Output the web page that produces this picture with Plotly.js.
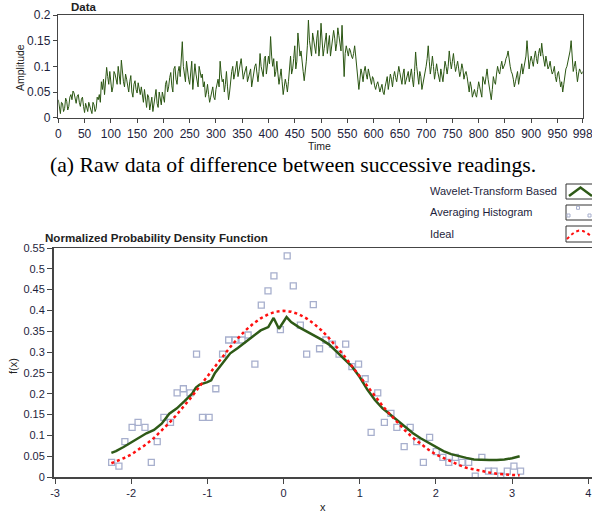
<!DOCTYPE html>
<html><head><meta charset="utf-8">
<script src="https://cdn.plot.ly/plotly-3.0.1.min.js"></script>
<style>html,body{margin:0;padding:0;background:#fff;overflow:hidden;} #chart{width:592px;height:515px;}</style>
</head><body><div id="chart"></div>
<script>
// ---- Top chart: raw data (sampled every 2 time units, t = 0..998) ----
const timeStart = 0;
const timeStep = 2;
const amplitude = [
0.035,0.020,0.008,0.030,0.028,0.012,0.018,0.038,0.032,0.015,0.022,0.040,0.045,0.035,0.052,0.048,0.038,0.028,0.042,0.045,0.030,0.022,0.036,0.040,0.022,0.010,0.028,0.022,0.012,0.030,0.020,0.015,0.008,0.030,0.025,0.012,0.018,0.040,0.035,0.045,0.030,0.070,0.055,0.075,0.045,0.070,0.098,0.080,0.065,0.090,
0.075,0.050,0.060,0.090,0.085,0.070,0.065,0.100,0.080,0.065,0.112,0.080,0.070,0.060,0.085,0.075,0.060,0.050,0.070,0.082,0.050,0.040,0.065,0.072,0.055,0.048,0.068,0.058,0.045,0.060,0.040,0.030,0.055,0.035,0.020,0.045,0.040,0.015,0.030,0.040,0.012,0.025,0.045,0.055,0.028,0.020,0.050,0.035,0.025,0.050,
0.040,0.030,0.065,0.072,0.050,0.060,0.078,0.088,0.062,0.050,0.095,0.100,0.075,0.065,0.090,0.100,0.080,0.110,0.148,0.100,0.085,0.070,0.110,0.090,0.075,0.065,0.095,0.110,0.055,0.075,0.105,0.085,0.070,0.060,0.100,0.090,0.078,0.085,0.060,0.070,0.040,0.050,0.065,0.045,0.030,0.040,0.050,0.060,0.040,0.035,
0.055,0.065,0.075,0.060,0.110,0.085,0.070,0.075,0.050,0.065,0.090,0.060,0.035,0.050,0.080,0.090,0.100,0.075,0.085,0.100,0.110,0.080,0.090,0.100,0.115,0.095,0.075,0.085,0.095,0.100,0.070,0.080,0.085,0.095,0.060,0.075,0.090,0.100,0.105,0.085,0.070,0.090,0.125,0.100,0.090,0.080,0.115,0.120,0.085,0.100,
0.120,0.105,0.158,0.120,0.100,0.115,0.080,0.090,0.110,0.085,0.065,0.080,0.095,0.070,0.045,0.060,0.075,0.065,0.050,0.070,0.100,0.120,0.085,0.095,0.115,0.140,0.095,0.110,0.165,0.135,0.120,0.130,0.100,0.090,0.072,0.090,0.110,0.140,0.190,0.150,0.130,0.120,0.165,0.150,0.140,0.125,0.155,0.170,0.120,0.140,
0.184,0.140,0.120,0.135,0.150,0.165,0.125,0.140,0.160,0.120,0.135,0.150,0.170,0.155,0.130,0.145,0.175,0.160,0.145,0.130,0.180,0.110,0.080,0.125,0.140,0.130,0.120,0.135,0.130,0.120,0.115,0.125,0.140,0.120,0.100,0.080,0.055,0.075,0.095,0.085,0.070,0.090,0.100,0.085,0.075,0.095,0.085,0.070,0.065,0.080,
0.075,0.062,0.055,0.065,0.070,0.060,0.050,0.058,0.065,0.050,0.045,0.060,0.070,0.080,0.055,0.070,0.085,0.075,0.060,0.080,0.090,0.078,0.070,0.085,0.100,0.088,0.075,0.065,0.085,0.095,0.065,0.072,0.080,0.090,0.070,0.080,0.095,0.075,0.060,0.090,0.128,0.100,0.075,0.065,0.090,0.080,0.055,0.065,0.080,0.090,
0.100,0.115,0.140,0.110,0.085,0.100,0.120,0.100,0.075,0.090,0.105,0.090,0.080,0.070,0.095,0.085,0.070,0.090,0.110,0.100,0.085,0.100,0.130,0.110,0.095,0.110,0.125,0.105,0.090,0.100,0.110,0.095,0.080,0.090,0.105,0.095,0.075,0.085,0.090,0.080,0.065,0.050,0.070,0.060,0.040,0.050,0.055,0.045,0.040,0.055,
0.070,0.060,0.050,0.040,0.080,0.070,0.065,0.080,0.095,0.075,0.060,0.050,0.035,0.055,0.080,0.070,0.065,0.085,0.100,0.090,0.085,0.100,0.110,0.095,0.100,0.105,0.115,0.120,0.130,0.110,0.100,0.090,0.085,0.075,0.060,0.070,0.080,0.090,0.065,0.078,0.095,0.105,0.085,0.100,0.110,0.120,0.150,0.110,0.095,0.110,
0.120,0.110,0.100,0.118,0.130,0.115,0.105,0.125,0.135,0.120,0.145,0.125,0.110,0.100,0.120,0.105,0.095,0.100,0.110,0.095,0.085,0.090,0.100,0.080,0.070,0.085,0.090,0.075,0.060,0.070,0.050,0.065,0.085,0.095,0.100,0.110,0.120,0.130,0.150,0.120,0.090,0.100,0.110,0.090,0.070,0.085,0.095,0.090,0.085,0.090
];
const timeTicks = [0,50,100,150,200,250,300,350,400,450,500,550,600,650,700,750,800,850,900,950,998];
const ampTicks = [0,0.05,0.1,0.15,0.2];

// ---- Bottom chart: PDFs ----
const waveletX = [-2.26,-2.2,-2.1,-2.0,-1.9,-1.8,-1.7,-1.6,-1.5,-1.4,-1.3,-1.2,-1.15,-1.1,-1.0,-0.95,-0.9,-0.8,-0.7,-0.6,-0.5,-0.4,-0.3,-0.2,-0.13,-0.06,0.04,0.1,0.2,0.3,0.4,0.5,0.6,0.7,0.8,0.9,1.0,1.1,1.2,1.3,1.4,1.5,1.6,1.7,1.8,1.9,2.0,2.1,2.2,2.3,2.4,2.5,2.6,2.7,2.8,2.9,3.0,3.1];
const waveletY = [0.058,0.062,0.072,0.083,0.095,0.105,0.113,0.128,0.152,0.165,0.182,0.200,0.215,0.222,0.228,0.232,0.250,0.275,0.297,0.310,0.325,0.338,0.352,0.360,0.382,0.356,0.384,0.372,0.360,0.350,0.342,0.330,0.318,0.300,0.283,0.265,0.240,0.210,0.185,0.165,0.150,0.135,0.118,0.105,0.093,0.082,0.071,0.062,0.055,0.050,0.046,0.042,0.041,0.041,0.041,0.042,0.045,0.050];

const idealX = [-2.26,-2.2,-2.1,-2.0,-1.9,-1.8,-1.7,-1.6,-1.5,-1.4,-1.3,-1.2,-1.1,-1.0,-0.9,-0.8,-0.7,-0.6,-0.5,-0.4,-0.3,-0.2,-0.1,0.0,0.1,0.2,0.3,0.4,0.5,0.6,0.7,0.8,0.9,1.0,1.1,1.2,1.3,1.4,1.5,1.6,1.7,1.8,1.9,2.0,2.1,2.2,2.3,2.4,2.5,2.6,2.7,2.8,2.9,3.0,3.1];
const idealY = [0.033,0.037,0.045,0.054,0.066,0.079,0.094,0.111,0.130,0.150,0.171,0.194,0.218,0.242,0.266,0.290,0.312,0.333,0.352,0.368,0.381,0.391,0.397,0.399,0.397,0.391,0.381,0.368,0.352,0.333,0.312,0.290,0.266,0.242,0.218,0.194,0.171,0.150,0.130,0.111,0.094,0.079,0.066,0.054,0.045,0.036,0.029,0.022,0.018,0.014,0.011,0.008,0.006,0.005,0.004];

const histX = [-2.257,-2.161,-2.083,-1.988,-1.91,-1.819,-1.736,-1.658,-1.571,-1.484,-1.397,-1.315,-1.228,-1.142,-1.064,-0.977,-0.889,-0.80,-0.72,-0.635,-0.545,-0.465,-0.376,-0.292,-0.204,-0.126,-0.041,0.048,0.128,0.221,0.304,0.391,0.473,0.556,0.642,0.729,0.816,0.898,0.985,1.072,1.15,1.237,1.324,1.41,1.488,1.584,1.663,1.749,1.836,1.918,2.005,2.092,2.17,2.257,2.344,2.431,2.517,2.604,2.691,2.764,2.852,2.938,3.025,3.112];
const histY = [0.035,0.026,0.085,0.119,0.131,0.119,0.035,0.085,0.143,0.131,0.202,0.212,0.202,0.295,0.143,0.143,0.212,0.295,0.329,0.329,0.329,0.341,0.271,0.413,0.447,0.483,0.354,0.531,0.459,0.365,0.295,0.414,0.308,0.329,0.319,0.295,0.319,0.265,0.271,0.236,0.107,0.202,0.131,0.153,0.119,0.073,0.119,0.085,0.035,0.095,0.061,0.047,0.035,0.047,0.035,0.035,0.002,0.047,0.014,0.014,0.002,0.014,0.026,0.014];
const pdfXTicks = [-3,-2,-1,0,1,2,3,4];
const pdfYTicks = [0,0.05,0.1,0.15,0.2,0.25,0.3,0.35,0.4,0.45,0.5,0.55];

const legendLabels = ['Wavelet-Transform Based','Averaging Histogram','Ideal'];

// ---- helpers ----
const W = 592, H = 515;
const px = x => x / W;
const py = y => 1 - y / H;
const SANS = 'Liberation Sans, Arial, sans-serif';
const TXT = '#1e1e3c';
const topTick = {family: SANS, size: 12, color: TXT};
const botTick = {family: SANS, size: 11, color: TXT};

const traces = [
  {x0: timeStart, dx: timeStep, y: amplitude, type: 'scatter', mode: 'lines', xaxis: 'x', yaxis: 'y',
   line: {color: '#2b5613', width: 1}, showlegend: false, hoverinfo: 'skip'},
  {x: histX, y: histY, type: 'scatter', mode: 'markers', xaxis: 'x2', yaxis: 'y2',
   marker: {symbol: 'square-open', size: 6, color: '#a7afcd', line: {width: 1.3}}, showlegend: false},
  {x: waveletX, y: waveletY, type: 'scatter', mode: 'lines', xaxis: 'x2', yaxis: 'y2',
   line: {color: '#2e5a17', width: 2.5}, showlegend: false},
  {x: idealX, y: idealY, type: 'scatter', mode: 'lines', xaxis: 'x2', yaxis: 'y2',
   line: {color: '#ff1010', width: 2.5, dash: 'dot'}, showlegend: false}
];

const axisCommon = {showgrid: false, zeroline: false, showline: true, linecolor: '#454545', linewidth: 1.5,
  ticks: 'outside', ticklen: 5, tickwidth: 1, tickcolor: '#454545', ticklabeloverflow: 'allow'};

const pathFrom = pts => pts.map((p, i) => (i ? 'L ' : 'M ') + px(p[0]) + ',' + py(p[1])).join(' ');

const shapes = [
  {type: 'rect', xref: 'paper', yref: 'paper', x0: px(566), x1: px(604), y0: py(199), y1: py(184), line: {color: '#333', width: 1}, fillcolor: '#fff'},
  {type: 'rect', xref: 'paper', yref: 'paper', x0: px(566), x1: px(604), y0: py(220), y1: py(205), line: {color: '#333', width: 1}, fillcolor: '#fff'},
  {type: 'rect', xref: 'paper', yref: 'paper', x0: px(566), x1: px(604), y0: py(242), y1: py(226), line: {color: '#333', width: 1}, fillcolor: '#fff'},
  {type: 'path', xref: 'paper', yref: 'paper', path: pathFrom([[569,196],[580.5,187.5],[592,196]]), line: {color: '#2e5a17', width: 2.5}},
  {type: 'path', xref: 'paper', yref: 'paper', path: pathFrom([[567,239],[571,235],[575,232],[579,230.5],[583,231],[587,233],[591,236]]), line: {color: '#ff1010', width: 2, dash: 'dot'}}
];
[[568.5,215.5],[578,207.8],[589.5,215.5]].forEach(c => shapes.push({type: 'rect', xref: 'paper', yref: 'paper',
  x0: px(c[0]-1.5), x1: px(c[0]+1.5), y0: py(c[1]+1.5), y1: py(c[1]-1.5), line: {color: '#a7afcd', width: 1}}));

const ann = (text, x, y, opts) => Object.assign({text: text, x: px(x), y: py(y), xref: 'paper', yref: 'paper',
  showarrow: false, xanchor: 'center', yanchor: 'middle', font: {family: SANS, size: 11, color: TXT}}, opts || {});

const annotations = [
  ann('Data', 69, 6.5, {xanchor: 'left', font: {family: SANS, size: 11.5, color: '#222', weight: 'bold'}}),
  ann('Amplitude', 20.5, 67.5, {textangle: -90, font: {family: SANS, size: 10.5, color: '#222'}}),
  ann('Time', 319, 146, {font: {family: SANS, size: 10.5, color: '#222'}}),
  ann('(a) Raw data of difference between successive readings.', 292.5, 165,
      {font: {family: 'Liberation Serif, Times New Roman, serif', size: 21.7, color: '#000'}}),
  ann(legendLabels[0], 428, 191, {xanchor: 'left'}),
  ann(legendLabels[1], 428, 212.3, {xanchor: 'left'}),
  ann(legendLabels[2], 428, 234.3, {xanchor: 'left'}),
  ann('Normalized Probability Density Function', 43, 237.5, {xanchor: 'left', font: {family: SANS, size: 11.6, color: '#222', weight: 'bold'}}),
  ann('f(x)', 13, 366, {textangle: -90, font: {family: SANS, size: 11, color: '#222'}}),
  ann('x', 322.7, 506.5, {font: {family: SANS, size: 11, color: '#222'}})
];

const layout = {
  width: W, height: H, margin: {l: 0, r: 0, t: 0, b: 0},
  paper_bgcolor: '#fff', plot_bgcolor: '#fff', showlegend: false,
  xaxis: Object.assign({}, axisCommon, {domain: [px(58.3), px(582.7)], range: [0, 998], anchor: 'y',
    tickvals: timeTicks, ticktext: timeTicks.map(String), tickfont: topTick, mirror: true, ticklen: 4}),
  yaxis: Object.assign({}, axisCommon, {domain: [py(117.7), py(15)], range: [0, 0.2], anchor: 'x',
    tickvals: ampTicks, ticktext: ampTicks.map(String), tickfont: topTick, mirror: true, ticklen: 4}),
  xaxis2: Object.assign({}, axisCommon, {domain: [px(53.5), 1], range: [-3.02, 4.05], anchor: 'y2',
    tickvals: pdfXTicks, ticktext: pdfXTicks.map(String), tickfont: botTick, mirror: true}),
  yaxis2: Object.assign({}, axisCommon, {domain: [py(477), py(248)], range: [0, 0.55], anchor: 'x2',
    tickvals: pdfYTicks, ticktext: pdfYTicks.map(String), tickfont: botTick}),
  shapes: shapes,
  annotations: annotations
};

Plotly.newPlot('chart', traces, layout, {displayModeBar: false, staticPlot: true});
</script>
</body></html>
